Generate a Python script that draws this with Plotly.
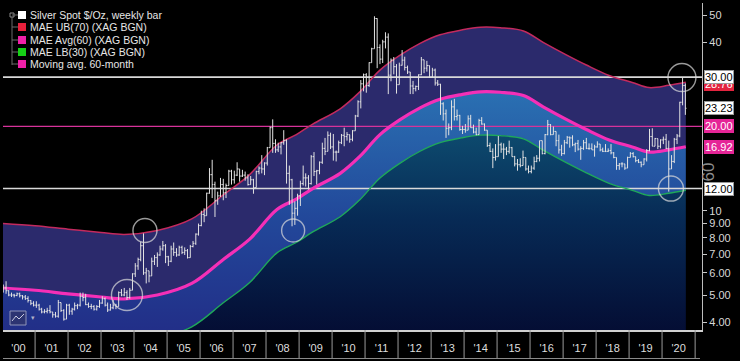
import math
import plotly.graph_objects as go

# ---------------- data ----------------
months = [f"{y}-{m:02d}-15" for y in range(2000, 2021) for m in range(1, 13)][:249]

close = [
    5.30, 5.18, 5.00, 5.00, 4.98, 5.05, 4.97, 4.92, 4.86, 4.78, 4.67, 4.60,
    4.60, 4.45, 4.35, 4.37, 4.40, 4.35, 4.25, 4.20, 4.70, 4.40, 4.10, 4.60,
    4.38, 4.45, 4.58, 4.60, 4.95, 4.90, 4.62, 4.55, 4.55, 4.45, 4.55, 4.68,
    4.85, 4.60, 4.42, 4.50, 4.60, 4.55, 5.10, 5.00, 5.10, 4.90, 5.20, 5.95,
    6.35, 6.70, 7.50, 6.00, 6.10, 5.85, 6.60, 6.80, 6.95, 7.30, 7.50, 6.85,
    6.60, 7.30, 7.10, 6.95, 7.40, 7.10, 7.20, 6.80, 7.45, 7.65, 8.25, 8.85,
    9.70, 9.60, 11.55, 13.45, 12.40, 10.85, 11.30, 12.40, 11.60, 12.30, 13.85, 12.90,
    13.40, 14.10, 13.30, 13.40, 13.10, 12.40, 12.90, 12.10, 13.80, 14.20, 14.10, 14.80,
    16.80, 19.80, 17.40, 16.50, 16.90, 17.50, 17.80, 13.60, 12.90, 9.80, 10.20, 11.30,
    12.50, 13.10, 13.10, 12.50, 15.60, 13.80, 13.90, 14.90, 16.70, 16.30, 18.60, 16.90,
    16.20, 16.20, 17.50, 18.60, 18.40, 18.70, 18.00, 19.30, 21.80, 24.50, 28.40, 30.60,
    28.00, 33.80, 37.90, 48.60, 38.30, 34.80, 40.10, 41.70, 30.50, 34.50, 32.70, 28.20,
    33.10, 34.50, 32.50, 31.30, 27.90, 27.30, 27.80, 30.60, 34.60, 32.30, 33.00, 30.00,
    31.80, 28.60, 28.30, 24.10, 22.20, 19.70, 19.80, 23.50, 21.70, 21.90, 19.50, 19.50,
    19.40, 21.30, 19.80, 19.10, 18.70, 21.00, 20.40, 19.40, 17.10, 16.30, 15.50, 15.60,
    17.20, 16.60, 16.60, 16.30, 16.80, 15.60, 14.70, 14.60, 14.50, 15.50, 14.10, 13.80,
    14.20, 15.00, 15.40, 17.80, 16.00, 18.70, 20.30, 18.70, 19.20, 17.80, 16.50, 16.00,
    17.50, 18.30, 18.20, 17.20, 17.40, 16.60, 16.70, 17.50, 16.70, 16.70, 16.50, 16.90,
    17.30, 16.50, 16.30, 16.30, 16.40, 16.10, 15.50, 14.50, 14.70, 14.70, 14.20, 15.50,
    16.00, 15.60, 15.10, 14.90, 14.60, 15.30, 16.40, 18.40, 17.00, 18.10, 17.00, 17.90,
    18.00, 16.70, 14.10, 15.00, 18.00, 18.50, 24.40, 28.00, 23.23,
]
high = [
    5.45, 5.60, 5.20, 5.10, 5.05, 5.10, 5.10, 5.00, 5.00, 4.95, 4.80, 4.75,
    4.75, 4.65, 4.50, 4.45, 4.50, 4.60, 4.35, 4.35, 4.80, 4.70, 4.45, 4.65,
    4.65, 4.50, 4.70, 4.65, 5.10, 5.10, 5.05, 4.70, 4.65, 4.60, 4.60, 4.80,
    4.95, 4.90, 4.70, 4.65, 4.80, 4.65, 5.15, 5.25, 5.30, 5.20, 5.30, 5.98,
    6.50, 6.80, 7.75, 8.30, 6.25, 6.10, 6.80, 6.95, 7.10, 7.50, 7.80, 7.60,
    6.90, 7.50, 7.70, 7.35, 7.50, 7.50, 7.40, 7.30, 7.55, 7.80, 8.30, 9.00,
    10.00, 10.20, 11.60, 14.20, 15.20, 12.70, 11.70, 13.10, 13.00, 12.50, 14.00, 14.00,
    13.90, 14.90, 14.00, 14.00, 13.80, 13.50, 13.30, 13.00, 13.90, 14.40, 15.80, 14.90,
    16.90, 20.00, 21.20, 18.00, 17.50, 17.60, 19.40, 18.00, 14.50, 13.00, 10.80, 11.50,
    12.80, 14.50, 13.60, 13.40, 15.80, 16.20, 14.00, 15.00, 17.50, 18.20, 19.20, 19.00,
    18.80, 16.40, 17.80, 18.80, 19.80, 19.10, 18.50, 19.40, 22.00, 24.80, 29.30, 30.90,
    31.00, 33.90, 38.20, 49.50, 48.70, 39.30, 40.80, 43.40, 43.00, 35.00, 35.40, 33.40,
    33.80, 37.50, 35.50, 33.00, 31.30, 29.10, 28.00, 30.70, 35.40, 34.50, 34.30, 33.00,
    32.40, 32.20, 29.30, 28.40, 24.40, 23.00, 20.50, 24.80, 25.10, 23.00, 22.00, 20.10,
    20.40, 21.90, 22.00, 20.30, 19.80, 21.30, 21.60, 20.50, 19.40, 17.50, 16.70, 17.30,
    18.50, 17.50, 17.40, 16.90, 17.80, 16.90, 15.70, 15.30, 15.40, 16.40, 14.90, 14.50,
    14.50, 15.60, 15.80, 17.80, 17.70, 18.80, 21.10, 20.40, 20.00, 19.20, 18.70, 17.20,
    17.90, 18.50, 18.40, 18.60, 17.50, 17.90, 17.00, 17.90, 18.20, 17.40, 17.40, 17.20,
    17.70, 17.00, 16.80, 17.30, 16.70, 17.30, 16.20, 15.50, 14.80, 14.90, 14.70, 15.60,
    16.20, 16.20, 15.60, 15.30, 15.00, 15.40, 16.60, 19.60, 19.70, 18.20, 18.10, 18.00,
    18.40, 18.80, 17.80, 15.80, 18.20, 18.80, 24.50, 29.80, 28.50,
]
low = [
    5.10, 5.05, 4.95, 4.92, 4.90, 4.95, 4.90, 4.82, 4.80, 4.70, 4.60, 4.55,
    4.50, 4.40, 4.30, 4.30, 4.30, 4.30, 4.15, 4.15, 4.15, 4.35, 4.05, 4.10,
    4.25, 4.25, 4.40, 4.45, 4.55, 4.75, 4.60, 4.50, 4.45, 4.40, 4.40, 4.50,
    4.65, 4.55, 4.35, 4.40, 4.45, 4.45, 4.55, 4.95, 4.95, 4.80, 4.85, 5.20,
    5.80, 6.15, 6.60, 5.90, 5.50, 5.55, 5.90, 6.40, 6.30, 6.90, 7.20, 6.50,
    6.35, 6.55, 6.90, 6.85, 6.90, 7.00, 6.95, 6.75, 6.80, 7.40, 7.55, 8.15,
    8.80, 9.10, 9.60, 11.50, 11.10, 9.50, 10.50, 11.20, 10.90, 11.10, 12.30, 12.40,
    12.50, 13.30, 12.70, 13.20, 12.80, 12.30, 12.50, 11.50, 12.10, 13.50, 13.60, 13.40,
    14.50, 16.90, 16.10, 16.10, 16.20, 15.90, 17.20, 12.50, 10.50, 8.80, 8.90, 9.60,
    10.40, 12.30, 12.20, 11.90, 12.40, 13.30, 12.40, 13.50, 14.70, 15.80, 16.40, 16.60,
    15.10, 15.00, 16.10, 17.30, 17.00, 17.80, 17.50, 17.70, 19.30, 21.60, 23.20, 26.70,
    26.40, 27.70, 33.80, 37.90, 32.30, 33.40, 33.70, 38.00, 26.10, 29.00, 30.70, 26.20,
    28.60, 33.00, 31.70, 30.80, 26.10, 26.10, 26.70, 27.00, 30.50, 31.00, 31.40, 29.80,
    29.90, 28.00, 27.90, 22.00, 21.00, 18.20, 18.60, 19.40, 21.00, 21.00, 19.30, 18.80,
    19.00, 19.40, 19.80, 18.90, 18.60, 18.70, 20.30, 19.30, 16.90, 16.20, 14.20, 15.10,
    15.60, 16.10, 15.30, 15.80, 16.00, 15.60, 14.40, 13.90, 14.30, 14.50, 13.90, 13.60,
    13.60, 14.00, 14.90, 15.00, 15.90, 15.90, 18.60, 18.60, 18.70, 17.00, 16.00, 15.70,
    15.90, 17.30, 16.80, 17.00, 16.20, 16.40, 15.20, 16.50, 16.60, 16.50, 16.50, 15.60,
    16.80, 16.30, 16.20, 16.20, 16.20, 15.90, 15.40, 14.00, 14.00, 14.30, 14.00, 14.20,
    15.50, 15.50, 14.90, 14.80, 14.30, 14.70, 15.00, 16.30, 17.00, 17.00, 16.60, 16.70,
    17.30, 16.60, 11.70, 14.10, 14.80, 17.30, 18.30, 23.80, 22.00,
]
first_open = 5.40

# Moving-average envelope
band_dates = ["2000-01-01", "2001-01-01", "2002-01-01", "2003-01-01", "2003-09-15",
              "2004-09-15", "2005-10-01", "2006-09-15", "2007-07-01", "2008-05-01",
              "2008-12-01", "2009-06-01", "2010-04-01", "2010-11-01", "2011-06-15",
              "2012-01-20", "2012-09-01", "2013-04-10", "2013-12-01", "2014-07-01",
              "2015-02-05", "2015-10-20", "2016-05-25", "2017-02-05", "2017-09-15",
              "2018-05-25", "2019-02-05", "2019-08-10", "2020-03-15", "2020-09-20"]
ma60 = [5.30, 5.20, 5.05, 4.92, 4.84, 5.00, 5.50, 6.70, 7.90, 10.10,
        11.00, 12.00, 13.60, 15.60, 18.70, 21.10, 23.30, 25.00, 26.00, 26.60,
        26.50, 25.80, 23.50, 21.20, 19.50, 17.90, 16.90, 16.20, 16.50, 16.92]
mae_ub = [9.01, 8.84, 8.59, 8.36, 8.23, 8.50, 9.35, 11.39, 13.43, 17.17,
          18.70, 20.40, 23.12, 26.52, 31.79, 35.87, 39.61, 42.50, 44.20, 45.22,
          45.05, 43.86, 39.95, 36.04, 33.15, 30.43, 28.73, 27.54, 28.05, 28.76]
mae_lb = [3.71, 3.64, 3.54, 3.44, 3.39, 3.50, 3.85, 4.69, 5.53, 7.07,
          7.70, 8.40, 9.52, 10.92, 13.09, 14.77, 16.31, 17.50, 18.20, 18.62,
          18.55, 18.06, 16.45, 14.84, 13.65, 12.53, 11.83, 11.34, 11.55, 11.84]

level_values = [30.0, 20.0, 12.0]
level_colors = ["#d9d9d9", "#d6339a", "#d9d9d9"]
level_widths = [1.6, 1.2, 1.6]

circle_dates = ["2003-10-15", "2004-05-01", "2008-10-27", "2020-04-08", "2020-08-08"]
circle_values = [5.0, 8.5, 8.5, 12.0, 29.9]
circle_sizes = [31, 24, 23, 25, 28]

ytick_vals = [4, 5, 6, 7, 8, 9, 10, 40, 50]
ytick_text = ["4.00", "5.00", "6.00", "7.00", "8.00", "9.00", "10", "40", "50"]

tags = [  # value, text, background, font colour
    (28.30, "28.76", "#e3243f", "#ffffff"),
    (30.00, "30.00", "#ffffff", "#000000"),
    (23.23, "23.23", "#ffffff", "#000000"),
    (20.00, "20.00", "#e52597", "#ffffff"),
    (16.92, "16.92", "#e52597", "#ffffff"),
    (12.00, "12.00", "#ffffff", "#000000"),
]

legend_items = [
    ("Silver Spot $/Oz, weekly bar", "#ffffff"),
    ("MAE UB(70) (XAG BGN)", "#e8203c"),
    ("MAE Avg(60) (XAG BGN)", "#f020a8"),
    ("MAE LB(30) (XAG BGN)", "#16d016"),
    ("Moving avg. 60-month", "#f020a8"),
]

X_RANGE = ["2000-01-12", "2021-03-18"]
Y_RANGE = [0.574, 1.742]

# ---------------- figure ----------------
opens = [first_open] + close[:-1]
hi = [max(h, o, c) for h, o, c in zip(high, opens, close)]
lo = [min(l, o, c) for l, o, c in zip(low, opens, close)]

fig = go.Figure()

# baseline under everything (below visible range)
fig.add_trace(go.Scatter(x=[band_dates[0], band_dates[-1]], y=[3.3, 3.3], mode="lines",
                         line=dict(width=0), hoverinfo="skip", showlegend=False))
fig.add_trace(go.Scatter(x=band_dates, y=mae_lb, mode="lines", line=dict(width=0, shape="spline"),
                         fill="tonexty",
                         fillgradient=dict(type="vertical",
                                           colorscale=[[0, "#040a30"], [0.6, "#072a55"], [1, "#0d4a6e"]]),
                         hoverinfo="skip", showlegend=False))
fig.add_trace(go.Scatter(x=band_dates, y=ma60, mode="lines", line=dict(width=0, shape="spline"),
                         fill="tonexty",
                         fillgradient=dict(type="vertical",
                                           colorscale=[[0, "#222c86"], [0.5, "#22489a"], [1, "#2a70b2"]]),
                         hoverinfo="skip", showlegend=False))
fig.add_trace(go.Scatter(x=band_dates, y=mae_ub, mode="lines", line=dict(width=0, shape="spline"),
                         fill="tonexty", fillcolor="#2b2a6c",
                         hoverinfo="skip", showlegend=False))

# horizontal levels
for v, c, w in zip(level_values, level_colors, level_widths):
    fig.add_trace(go.Scatter(x=X_RANGE, y=[v, v], mode="lines", line=dict(color=c, width=w),
                             hoverinfo="skip", showlegend=False))

# band lines
fig.add_trace(go.Scatter(x=band_dates, y=mae_ub, mode="lines",
                         line=dict(color="#c32a5e", width=1.5, shape="spline"), showlegend=False))
fig.add_trace(go.Scatter(x=band_dates, y=mae_lb, mode="lines",
                         line=dict(color="#1fa85a", width=1.4, shape="spline"), showlegend=False))
fig.add_trace(go.Scatter(x=band_dates, y=ma60, mode="lines",
                         line=dict(color="#f52fb7", width=3.2, shape="spline"), showlegend=False))

# price bars (overlay subplot so they sit above the filled bands)
fig.add_trace(go.Ohlc(x=months, open=opens, high=hi, low=lo, close=close,
                      xaxis="x2", yaxis="y2",
                      increasing=dict(line=dict(color="#e2e2e2", width=1)),
                      decreasing=dict(line=dict(color="#e2e2e2", width=1)),
                      tickwidth=0.45, showlegend=False))

# highlight circles
fig.add_trace(go.Scatter(x=circle_dates, y=circle_values, mode="markers",
                         xaxis="x2", yaxis="y2",
                         marker=dict(symbol="circle-open", size=circle_sizes,
                                     line=dict(color="#dcdcdc", width=1.4), color="#dcdcdc"),
                         showlegend=False, hoverinfo="skip"))

# ---------------- layout ----------------
PW, PH, ML, MB = 699, 327, 3, 31


def px(xp):
    return (xp - ML) / PW


def py(yp):
    return (330 - yp) / PH


shapes = []
annotations = []

# year separators in the axis strip
for yr in range(2001, 2022):
    shapes.append(dict(type="line", xref="x", yref="paper", x0=f"{yr}-01-01", x1=f"{yr}-01-01",
                       y0=0, y1=-28 / PH, line=dict(color="#9a9a9a", width=1)))
shapes.append(dict(type="line", xref="paper", yref="paper", x0=0, x1=px(700),
                   y0=-28.5 / PH, y1=-28.5 / PH, line=dict(color="#8a8a8a", width=1)))

# legend box
shapes.append(dict(type="rect", xref="paper", yref="paper", x0=px(3), x1=px(171), y0=py(74), y1=py(3),
                   fillcolor="#000000", line=dict(width=0)))
shapes.append(dict(type="line", xref="paper", yref="paper", x0=px(12), x1=px(12), y0=py(65), y1=py(15),
                   line=dict(color="#6a6a6a", width=1)))
shapes.append(dict(type="rect", xref="paper", yref="paper", x0=px(10), x1=px(14), y0=py(17), y1=py(13),
                   fillcolor="#000000", line=dict(color="#8a8a8a", width=1)))
row_y = [15, 27, 40, 52, 64]
for (txt, col), ry in zip(legend_items, row_y):
    shapes.append(dict(type="line", xref="paper", yref="paper", x0=px(12), x1=px(18), y0=py(ry), y1=py(ry),
                       line=dict(color="#6a6a6a", width=1)))
    shapes.append(dict(type="rect", xref="paper", yref="paper", x0=px(18), x1=px(26),
                       y0=py(ry + 4), y1=py(ry - 4), fillcolor=col, line=dict(width=0)))
    annotations.append(dict(xref="paper", yref="paper", x=px(28), y=py(ry), text=txt, showarrow=False,
                            xanchor="left", yanchor="middle",
                            font=dict(family="Liberation Sans, Arial", size=10.5, color="#e6e6e6")))

# bottom-left icon
shapes.append(dict(type="rect", xref="paper", yref="paper", x0=px(10), x1=px(26), y0=py(325), y1=py(311),
                   fillcolor="#2d3472", line=dict(color="#8f93b8", width=1)))
shapes.append(dict(type="path", xref="paper", yref="paper",
                   path=f"M {px(12)} {py(321)} L {px(16)} {py(316)} L {px(19)} {py(319)} L {px(24)} {py(314)}",
                   line=dict(color="#c9cbe0", width=1)))
annotations.append(dict(xref="paper", yref="paper", x=px(29), y=py(317), text="▾", showarrow=False,
                        xanchor="left", yanchor="middle", font=dict(size=7, color="#b0b0c8")))

# rotated "60"
annotations.append(dict(xref="paper", yref="paper", x=px(720), y=py(172), text="60", textangle=-90,
                        showarrow=False, font=dict(family="Liberation Sans, Arial", size=17, color="#8c8c8c")))

# value tags on the right
for v, txt, bg, fc in tags:
    annotations.append(dict(xref="paper", yref="y", x=1, y=math.log10(v), text=txt, showarrow=False,
                            xanchor="left", yanchor="middle", xshift=2, bgcolor=bg,
                            bordercolor="#9a9a9a" if bg == "#ffffff" else bg, borderwidth=1, borderpad=0,
                            font=dict(family="Liberation Sans, Arial", size=11, color=fc)))

axis_font = dict(family="Liberation Sans, Arial", size=11, color="#dedede")
fig.update_layout(
    width=740, height=361,
    margin=dict(l=ML, r=38, t=3, b=MB, pad=0),
    paper_bgcolor="#000000", plot_bgcolor="#000000",
    showlegend=False,
    shapes=shapes, annotations=annotations,
    xaxis=dict(type="date", range=X_RANGE, showgrid=False, zeroline=False, automargin=False,
               dtick="M12", tick0="2000-01-01", tickformat="'%y", ticklabelmode="period",
               ticks="outside", ticklen=7, tickcolor="rgba(0,0,0,0)", tickfont=axis_font,
               showline=True, linecolor="#d0d0d0", linewidth=1.5,
               rangeslider=dict(visible=False), fixedrange=True),
    yaxis=dict(type="log", range=Y_RANGE, side="right", showgrid=False, zeroline=False, automargin=False,
               tickvals=ytick_vals, ticktext=ytick_text, ticks="outside", ticklen=4,
               tickcolor="#c8c8c8", tickfont=dict(family="Liberation Sans, Arial", size=11, color="#d8d8d8"),
               showline=True, linecolor="#bdbdbd", linewidth=1.2, fixedrange=True),
    xaxis2=dict(type="date", range=X_RANGE, overlaying="x", visible=False, showgrid=False,
                rangeslider=dict(visible=False), fixedrange=True),
    yaxis2=dict(type="log", range=Y_RANGE, overlaying="y", visible=False, showgrid=False,
                fixedrange=True),
)

fig.write_html("out.html", config={"displayModeBar": False},
               post_script="document.body.style.margin='0px';document.body.style.overflow='hidden';")
